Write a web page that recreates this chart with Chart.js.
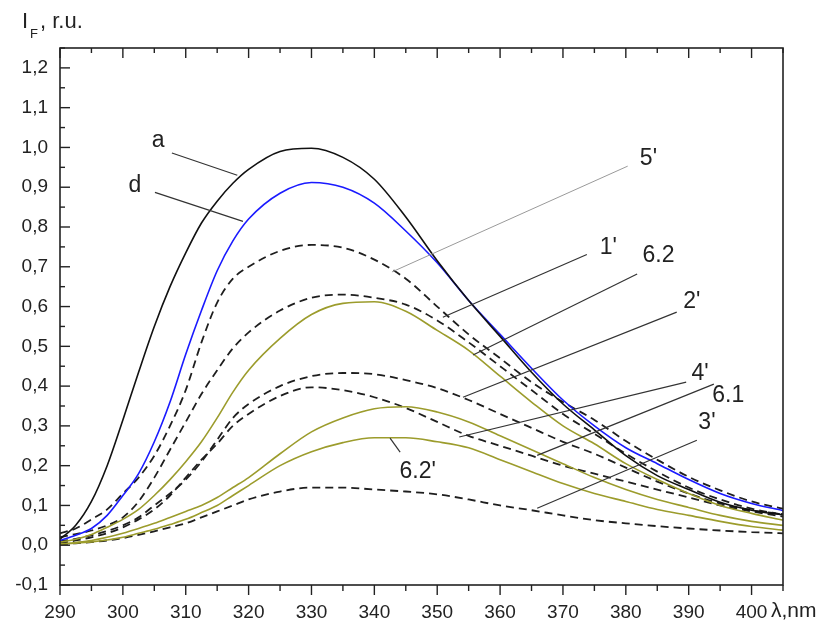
<!DOCTYPE html>
<html>
<head>
<meta charset="utf-8">
<script src="https://cdn.jsdelivr.net/npm/chart.js@4.4.1/dist/chart.umd.min.js"></script>
<style>
  html, body { margin: 0; padding: 0; background: #fff; }
</style>
</head>
<body>
<canvas id="spectra" width="830" height="623"></canvas>
<script>
// wavelength grid, nm (finer on the steep rising side)
const wavelengths = [290, 292.5, 295, 297.5, 300, 302.5, 305, 307.5, 310, 312.5, 315, 317.5, 320,
                     325, 330, 335, 340, 345, 350, 355, 360, 365, 370, 375, 380, 385, 390, 395, 400, 405];

// fluorescence intensity, r.u.
const curveA   = [0.015, 0.05, 0.11, 0.20, 0.315, 0.435, 0.55, 0.65, 0.735, 0.81, 0.865, 0.91, 0.945,
                  0.99, 0.998, 0.975, 0.92, 0.825, 0.715, 0.615, 0.525, 0.435, 0.355, 0.29, 0.225, 0.175, 0.14, 0.108, 0.088, 0.076];
const curveD   = [0.012, 0.025, 0.042, 0.075, 0.125, 0.18, 0.26, 0.36, 0.48, 0.59, 0.69, 0.765, 0.82,
                  0.885, 0.912, 0.9, 0.86, 0.79, 0.71, 0.615, 0.53, 0.445, 0.365, 0.30, 0.245, 0.205, 0.165, 0.13, 0.105, 0.087];
const curve5p  = [0.03, 0.042, 0.065, 0.09, 0.13, 0.17, 0.225, 0.30, 0.39, 0.51, 0.61, 0.67, 0.70,
                  0.74, 0.755, 0.748, 0.718, 0.67, 0.60, 0.53, 0.47, 0.41, 0.36, 0.315, 0.262, 0.215, 0.172, 0.138, 0.11, 0.092];
const curve1p  = [0.02, 0.028, 0.037, 0.05, 0.07, 0.11, 0.17, 0.24, 0.31, 0.38, 0.44, 0.495, 0.535,
                  0.59, 0.622, 0.63, 0.622, 0.605, 0.565, 0.51, 0.45, 0.39, 0.33, 0.28, 0.23, 0.185, 0.145, 0.115, 0.092, 0.077];
const curve62  = [0.008, 0.015, 0.027, 0.045, 0.065, 0.09, 0.125, 0.165, 0.21, 0.26, 0.32, 0.385, 0.44,
                  0.52, 0.58, 0.608, 0.612, 0.588, 0.54, 0.49, 0.425, 0.36, 0.30, 0.255, 0.205, 0.165, 0.13, 0.10, 0.08, 0.063];
const curve2p  = [0.01, 0.016, 0.025, 0.036, 0.05, 0.07, 0.10, 0.13, 0.165, 0.21, 0.265, 0.32, 0.355,
                  0.40, 0.425, 0.433, 0.43, 0.415, 0.395, 0.365, 0.33, 0.295, 0.26, 0.23, 0.195, 0.16, 0.13, 0.105, 0.088, 0.078];
const curve4p  = [0.005, 0.012, 0.02, 0.03, 0.045, 0.065, 0.09, 0.125, 0.17, 0.215, 0.255, 0.30, 0.33,
                  0.375, 0.397, 0.39, 0.372, 0.345, 0.31, 0.275, 0.25, 0.225, 0.2, 0.18, 0.16, 0.14, 0.12, 0.1, 0.085, 0.072];
const curve61  = [0.003, 0.007, 0.012, 0.02, 0.03, 0.042, 0.055, 0.07, 0.085, 0.10, 0.12, 0.145, 0.17,
                  0.23, 0.285, 0.32, 0.343, 0.348, 0.335, 0.31, 0.275, 0.24, 0.205, 0.17, 0.14, 0.115, 0.095, 0.075, 0.06, 0.05];
const curve62p = [0.003, 0.005, 0.008, 0.013, 0.02, 0.03, 0.04, 0.052, 0.065, 0.082, 0.10, 0.125, 0.15,
                  0.20, 0.235, 0.258, 0.27, 0.27, 0.26, 0.245, 0.215, 0.185, 0.155, 0.13, 0.11, 0.09, 0.075, 0.06, 0.047, 0.038];
const curve3p  = [0.002, 0.005, 0.008, 0.012, 0.018, 0.026, 0.035, 0.045, 0.055, 0.07, 0.085, 0.10, 0.115,
                  0.135, 0.145, 0.145, 0.14, 0.135, 0.128, 0.115, 0.1, 0.088, 0.075, 0.063, 0.055, 0.048, 0.042, 0.037, 0.033, 0.03];

// curve labels: text spot and leader line, in data units (nm, r.u.)
const curveLabels = [
    { text: 'a',    at: [305.6, 1.016], from: [307.8, 0.986], to: [318.2, 0.930] },
    { text: 'd',    at: [301.9, 0.905], from: [305.1, 0.887], to: [319.1, 0.814] },
    { text: "5'",   at: [383.6, 0.973], from: [380.3, 0.953], to: [342.8, 0.687], grey: true },
    { text: "1'",   at: [377.2, 0.747], from: [373.8, 0.731], to: [350.9, 0.573] },
    { text: '6.2',  at: [385.2, 0.729], from: [381.8, 0.682], to: [355.7, 0.478] },
    { text: "2'",   at: [390.5, 0.613], from: [388.1, 0.586], to: [354.1, 0.372] },
    { text: "4'",   at: [391.8, 0.432], from: [389.6, 0.410], to: [353.5, 0.272] },
    { text: '6.1',  at: [396.3, 0.377], from: [394.0, 0.405], to: [365.9, 0.226] },
    { text: "3'",   at: [392.9, 0.309], from: [391.3, 0.264], to: [365.9, 0.093] },
    { text: "6.2'", at: [346.9, 0.184], from: [344.1, 0.234], to: [342.5, 0.269] }
];

const FONT = '"Liberation Sans", Arial, sans-serif';
const INK = '#222';
const OLIVE = '#9c9c2c';

function toPoints(values) {
    return values.map((v, i) => ({ x: wavelengths[i], y: v }));
}

function solid(label, values, color) {
    return { label, data: toPoints(values), borderColor: color, borderWidth: 1.6 };
}

function dashed(label, values) {
    return { label, data: toPoints(values), borderColor: '#1e1e1e', borderWidth: 1.8, borderDash: [8, 5] };
}

// frame, tick marks, axis titles and curve labels
const decorations = {
    id: 'decorations',
    afterDatasetsDraw(chart) {
        const ctx = chart.ctx;
        const area = chart.chartArea;
        const xs = chart.scales.x;
        const ys = chart.scales.y;
        ctx.save();

        // curve labels
        ctx.font = '23px ' + FONT;
        ctx.textAlign = 'center';
        ctx.textBaseline = 'middle';
        curveLabels.forEach(l => {
            ctx.strokeStyle = l.grey ? '#9a9a9a' : '#333';
            ctx.lineWidth = l.grey ? 1 : 1.2;
            ctx.beginPath();
            ctx.moveTo(xs.getPixelForValue(l.from[0]), ys.getPixelForValue(l.from[1]));
            ctx.lineTo(xs.getPixelForValue(l.to[0]), ys.getPixelForValue(l.to[1]));
            ctx.stroke();
            ctx.fillStyle = INK;
            ctx.fillText(l.text, xs.getPixelForValue(l.at[0]), ys.getPixelForValue(l.at[1]));
        });

        // frame
        ctx.strokeStyle = INK;
        ctx.lineWidth = 1.6;
        ctx.strokeRect(area.left, area.top, area.right - area.left, area.bottom - area.top);

        // x ticks: out at the bottom, in at the top
        ctx.lineWidth = 1.4;
        xs.ticks.forEach(t => {
            const px = xs.getPixelForValue(t.value);
            const major = Math.round(t.value) % 10 === 0;
            ctx.beginPath();
            ctx.moveTo(px, area.bottom);
            ctx.lineTo(px, area.bottom + (major ? 10 : 6));
            ctx.moveTo(px, area.top);
            ctx.lineTo(px, area.top + (major ? 10 : 5));
            ctx.stroke();
        });
        // y ticks: in on the left
        ys.ticks.forEach(t => {
            const py = ys.getPixelForValue(t.value);
            const major = Math.round(t.value * 100) % 10 === 0;
            ctx.beginPath();
            ctx.moveTo(area.left, py);
            ctx.lineTo(area.left + (major ? 10 : 5), py);
            ctx.stroke();
        });

        // axis titles
        ctx.fillStyle = INK;
        ctx.textAlign = 'left';
        ctx.textBaseline = 'alphabetic';
        ctx.font = '22px ' + FONT;
        ctx.fillText('I', 22, 28);
        ctx.font = '13px ' + FONT;
        ctx.fillText('F', 30, 38);
        ctx.font = '22px ' + FONT;
        ctx.fillText(', r.u.', 40, 28);
        ctx.font = '21px ' + FONT;
        ctx.fillText('\u03bb,nm', 771, 617);

        ctx.restore();
    }
};

new Chart(document.getElementById('spectra'), {
    type: 'line',
    data: {
        datasets: [
            solid('a', curveA, '#111111'),
            solid('d', curveD, '#1a1aff'),
            solid('6.2', curve62, OLIVE),
            solid('6.1', curve61, OLIVE),
            solid("6.2'", curve62p, OLIVE),
            dashed("5'", curve5p),
            dashed("1'", curve1p),
            dashed("2'", curve2p),
            dashed("4'", curve4p),
            dashed("3'", curve3p)
        ]
    },
    options: {
        responsive: false,
        animation: false,
        layout: { padding: { top: 48, right: 47, left: 0, bottom: 0 } },
        elements: {
            point: { radius: 0 },
            line: { cubicInterpolationMode: 'monotone', fill: false }
        },
        plugins: {
            legend: { display: false },
            tooltip: { enabled: false }
        },
        scales: {
            x: {
                type: 'linear',
                min: 290,
                max: 405,
                grid: { display: false, drawTicks: false },
                border: { display: false },
                ticks: {
                    stepSize: 5,
                    autoSkip: false,
                    maxRotation: 0,
                    padding: 16,
                    color: INK,
                    font: { family: FONT, size: 19 },
                    callback: v => (Math.round(v) % 10 === 0 && v <= 400) ? String(v) : ''
                },
                afterFit: s => { s.height = 38; }
            },
            y: {
                min: -0.1,
                max: 1.25,
                grid: { display: false, drawTicks: false },
                border: { display: false },
                ticks: {
                    stepSize: 0.05,
                    autoSkip: false,
                    padding: 12,
                    color: INK,
                    font: { family: FONT, size: 19 },
                    callback: v => Math.round(v * 100) % 10 === 0 ? v.toFixed(1).replace('.', ',') : ''
                },
                afterFit: s => { s.width = 60; }
            }
        }
    },
    plugins: [decorations]
});
</script>
</body>
</html>
